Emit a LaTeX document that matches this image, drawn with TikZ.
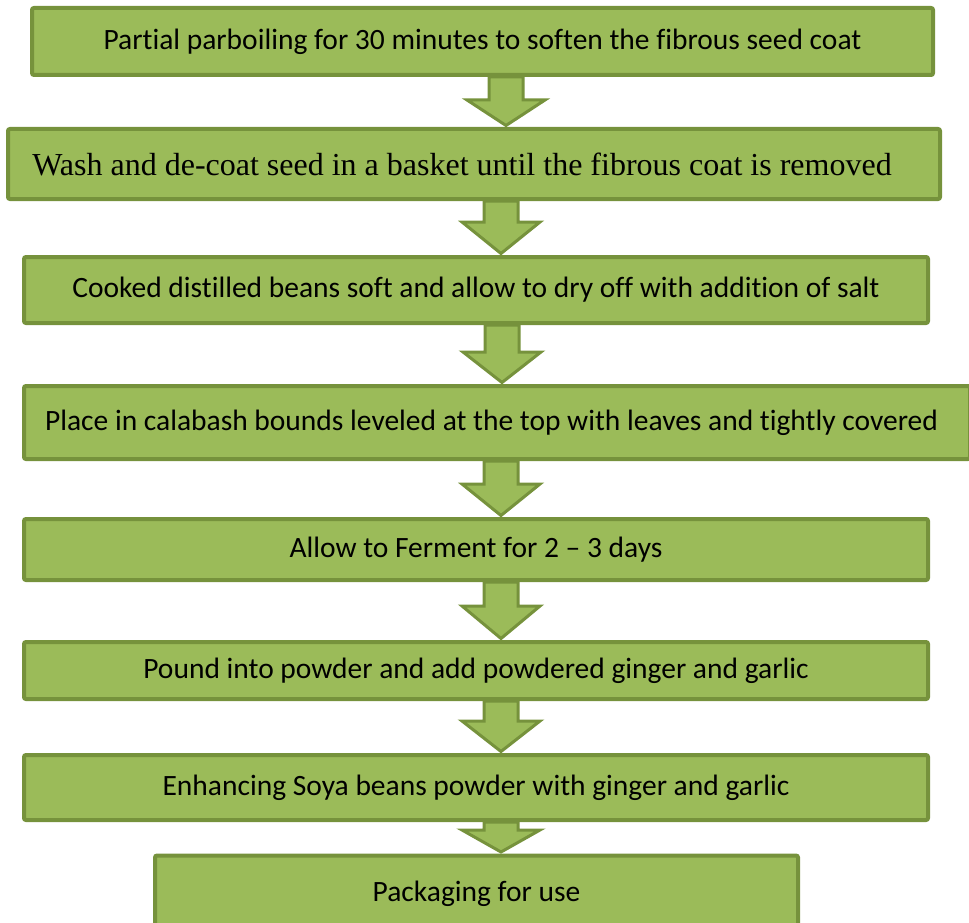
\documentclass[tikz,border=0pt]{standalone}
\usepackage{fontspec}
\setmainfont[Ligatures=NoCommon]{Carlito}
\newfontfamily\timesfont{Liberation Serif}
\usetikzlibrary{calc}
\definecolor{boxfill}{HTML}{9BBB59}
\definecolor{boxline}{HTML}{76923C}
\tikzset{
  flowbox/.style={draw=boxline, fill=boxfill, line width=4pt, rounded corners=2pt,
    inner sep=0pt, font=\fontsize{29.5}{33}\selectfont, text=black},
  blockarrow/.style={draw=boxline, fill=boxfill, line width=3pt, line join=miter},
}
\newcommand\flowarrow[4]{% from node, to node, x centre, head base y
  \draw[blockarrow] let \p1=(#1.south), \p2=(#2.north) in
    (#3-17,\y1) -- (#3-17,#4) -- (#3-39,#4) -- (#3,\y2+1.5pt) -- (#3+39,#4)
    -- (#3+17,#4) -- (#3+17,\y1) -- cycle;}
\begin{document}
\begin{tikzpicture}[x=1pt,y=-1pt]
\useasboundingbox (0,0) rectangle (969,923);
\node[flowbox, minimum width=901pt, minimum height=67pt] (b1) at (482.5,41.5)
  {Partial parboiling for 30 minutes to soften the fibrous seed coat};
\node[flowbox, minimum width=932pt, minimum height=70pt, font=\timesfont\fontsize{32}{36}\selectfont] (b2) at (474,164)
  {\hspace*{-24pt}Wash and de-coat seed in a basket until the fibrous coat is removed};
\node[flowbox, minimum width=904pt, minimum height=66pt] (b3) at (476,290)
  {Cooked distilled beans soft and allow to dry off with addition of salt};
\node[flowbox, minimum width=946pt, minimum height=73pt] (b4) at (497,422.5)
  {\raisebox{4pt}{\hspace*{-11pt}Place in calabash bounds leveled at the top with leaves and tightly covered}};
\node[flowbox, minimum width=904pt, minimum height=61pt] (b5) at (476,549.5)
  {Allow to Ferment for 2 -- 3 days};
\node[flowbox, minimum width=904pt, minimum height=57pt] (b6) at (476,670.5)
  {Pound into powder and add powdered ginger and garlic};
\node[flowbox, minimum width=904pt, minimum height=65pt] (b7) at (476,787.5)
  {Enhancing Soya beans powder with ginger and garlic};
\node[flowbox, minimum width=643pt, minimum height=77pt] (b8) at (476.5,894)
  {\raisebox{5pt}{Packaging for use}};
\flowarrow{b1}{b2}{506}{100}
\flowarrow{b2}{b3}{501}{222}
\flowarrow{b3}{b4}{502}{352}
\flowarrow{b4}{b5}{501}{484}
\flowarrow{b5}{b6}{501}{606}
\flowarrow{b6}{b7}{501}{721}
\flowarrow{b7}{b8}{501}{830}
\end{tikzpicture}
\end{document}
